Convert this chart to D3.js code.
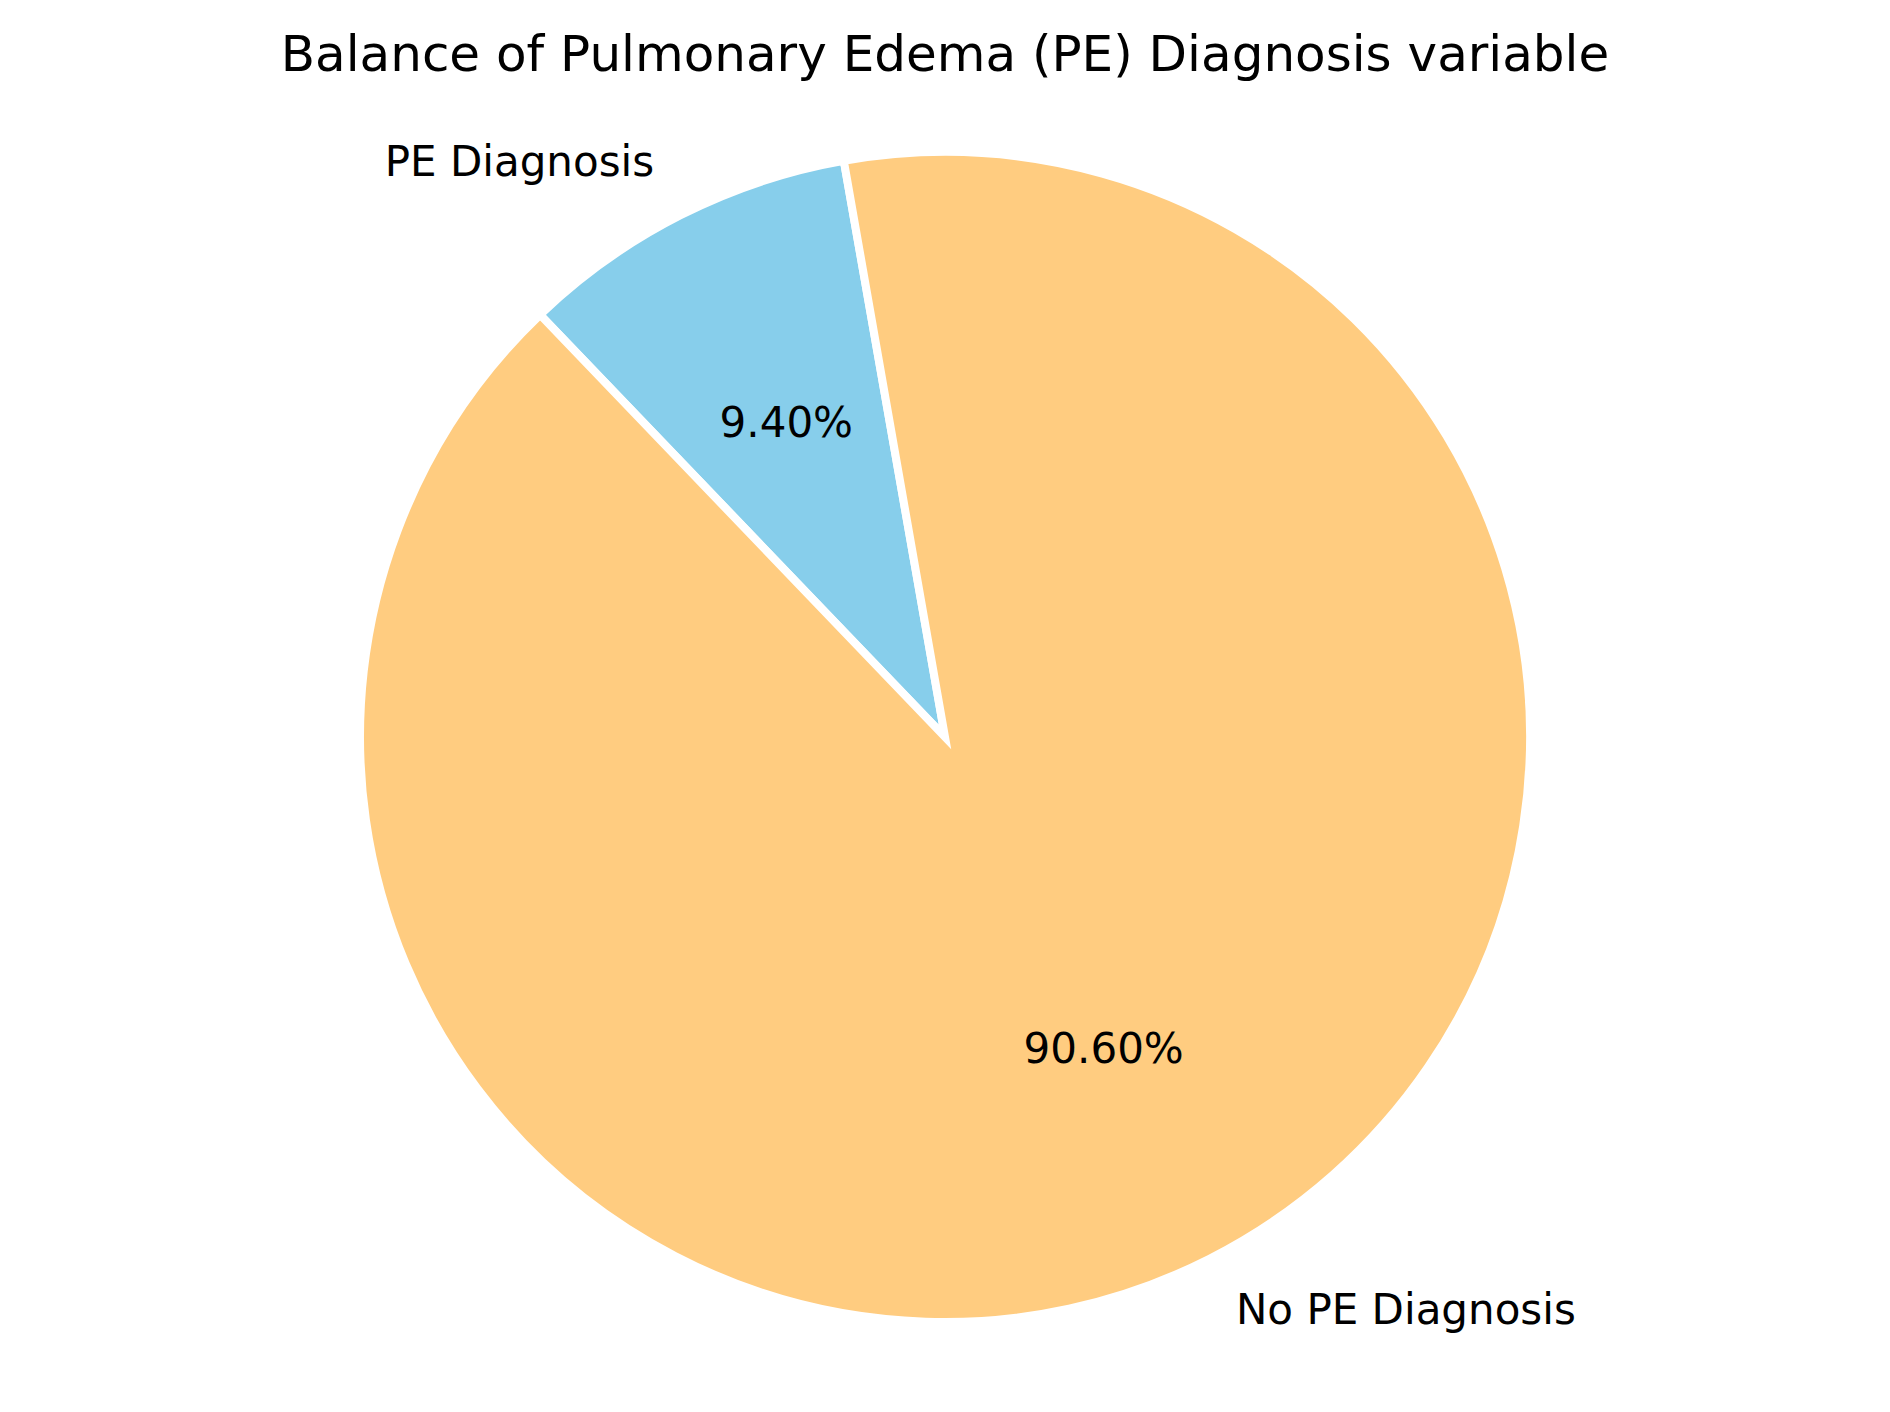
<!DOCTYPE html>
<html>
<head>
<meta charset="utf-8">
<script src="https://cdn.jsdelivr.net/npm/d3@7/dist/d3.min.js"></script>
<style>
  html, body { margin: 0; padding: 0; background: #fff; }
  text { font-family: "DejaVu Sans", sans-serif; fill: #000; }
</style>
</head>
<body>
<svg id="chart" width="1890" height="1412"></svg>
<script>
const width = 1890;
const height = 1412;

// data
const categories = ["PE Diagnosis", "No PE Diagnosis"];
const percentages = [9.40, 90.60];
const colors = ["#87CEEB", "#FFCC80"];
const titleText = "Balance of Pulmonary Edema (PE) Diagnosis variable";

const cx = 945, cy = 737, radius = 585;
// matplotlib style start angle (degrees ccw from 3 o'clock), drawn counterclockwise
const startDeg = 99.96;

const svg = d3.select("#chart");

svg.append("text")
  .attr("x", width / 2)
  .attr("y", 71)
  .attr("text-anchor", "middle")
  .style("font-size", "50px")
  .text(titleText);

const pie = d3.pie()
  .sort(null)
  .value(d => d)
  .startAngle((90 - startDeg) * Math.PI / 180)
  .endAngle((90 - startDeg) * Math.PI / 180 - 2 * Math.PI);

const arcs = pie(percentages);
const arc = d3.arc().innerRadius(0).outerRadius(radius);

const g = svg.append("g").attr("transform", `translate(${cx},${cy})`);

g.selectAll("path.slice")
  .data(arcs)
  .join("path")
  .attr("class", "slice")
  .attr("d", arc)
  .attr("fill", (d, i) => colors[i])
  .attr("stroke", "#fff")
  .attr("stroke-width", 8)
  .attr("stroke-linejoin", "miter");

const midPos = (d, r) => {
  const a = (d.startAngle + d.endAngle) / 2;
  return [r * Math.sin(a), -r * Math.cos(a)];
};

// category labels outside
g.selectAll("text.label")
  .data(arcs)
  .join("text")
  .attr("class", "label")
  .attr("x", d => midPos(d, radius * 1.1)[0])
  .attr("y", d => midPos(d, radius * 1.1)[1])
  .attr("dy", "0.3em")
  .attr("text-anchor", d => midPos(d, 1)[0] < 0 ? "end" : "start")
  .style("font-size", "42px")
  .text((d, i) => categories[i]);

// percentage labels inside
g.selectAll("text.pct")
  .data(arcs)
  .join("text")
  .attr("class", "pct")
  .attr("x", d => midPos(d, radius * 0.6)[0])
  .attr("y", d => midPos(d, radius * 0.6)[1])
  .attr("dy", "0.3em")
  .attr("text-anchor", "middle")
  .style("font-size", "42px")
  .text(d => d.data.toFixed(2) + "%");
</script>
</body>
</html>
